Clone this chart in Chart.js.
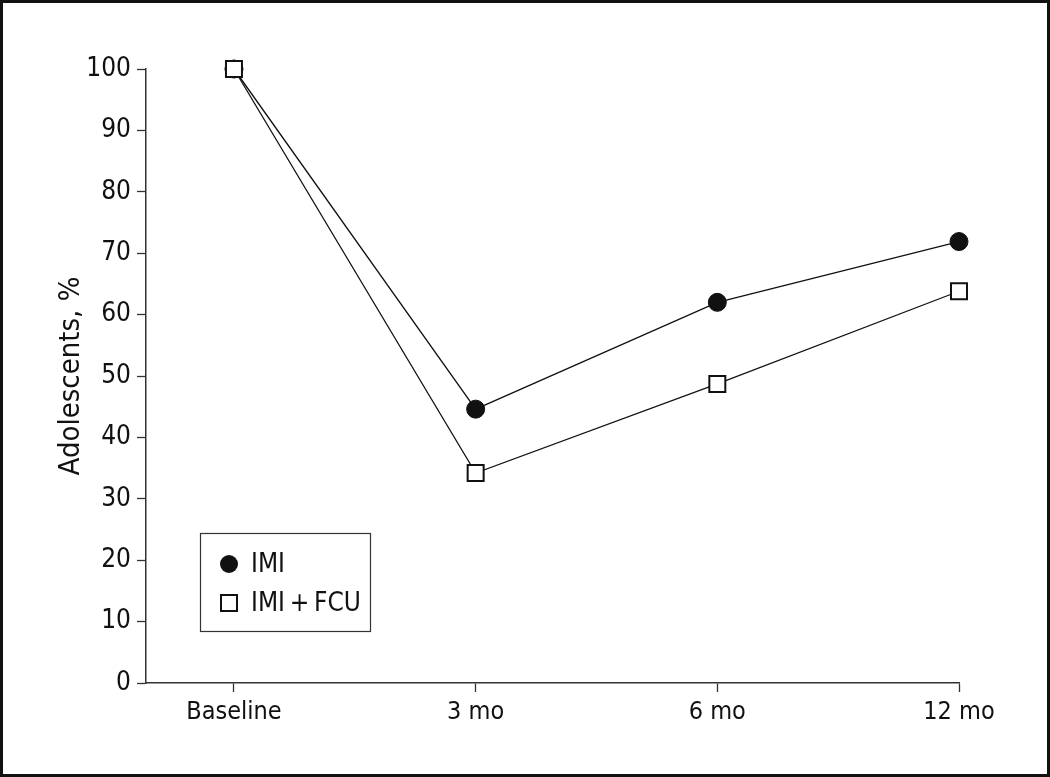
<!DOCTYPE html>
<html><head><meta charset="utf-8">
<script src="https://cdn.jsdelivr.net/npm/chart.js@4/dist/chart.umd.min.js"></script>
<style>html,body{margin:0;padding:0;background:#fff}#wrap{width:1050px;height:777px;position:relative}</style>
</head><body><div id="wrap"><canvas id="c" width="1050" height="777"></canvas></div>
<script>
const categories = ["Baseline", "3 mo", "6 mo", "12 mo"];
const imiValues = [100, 44.6, 62.0, 71.9];
const imiFcuValues = [100, 34.2, 48.7, 63.8];
const seriesLabels = ["IMI", "IMI\u2009+\u2009FCU"];
const yTicks = [0,10,20,30,40,50,60,70,80,90,100];

const FONT = "'Liberation Sans Narrow','DejaVu Sans Condensed','Arial Narrow',sans-serif";

const legendPlugin = {
  id: 'boxLegend',
  afterDatasetsDraw(chart) {
    const ctx = chart.ctx;
    ctx.save();
    ctx.strokeStyle = '#333';
    ctx.lineWidth = 1.2;
    ctx.strokeRect(200.5, 533.5, 170, 98);
    const rows = [564, 603];
    chart.data.datasets.forEach((ds, i) => {
      const y = rows[i];
      if (ds.pointStyle === 'circle') {
        ctx.beginPath(); ctx.arc(229, y, 9, 0, Math.PI*2);
        ctx.fillStyle = '#111'; ctx.fill();
      } else {
        ctx.fillStyle = '#fff'; ctx.strokeStyle = '#111'; ctx.lineWidth = 2;
        ctx.fillRect(221, y-8, 16, 16); ctx.strokeRect(221, y-8, 16, 16);
      }
      ctx.fillStyle = '#111';
      ctx.font = '26px ' + FONT;
      ctx.textBaseline = 'middle'; ctx.textAlign = 'left';
      ctx.fillText(ds.label, 251, y + 1);
    });
    ctx.restore();
  },
  afterDraw(chart) {
    const ctx = chart.ctx;
    ctx.save();
    ctx.strokeStyle = '#111'; ctx.lineWidth = 3;
    ctx.strokeRect(1.5, 1.5, 1047, 774);
    ctx.restore();
  }
};

new Chart(document.getElementById('c'), {
  type: 'line',
  data: {
    datasets: [
      { label: seriesLabels[0], data: imiValues.map((v,i)=>({x:i,y:v})), order: 1,
        borderColor: '#111', borderWidth: 1.3, pointStyle: 'circle', pointRadius: 9,
        pointBackgroundColor: '#111', pointBorderColor: '#111', pointBorderWidth: 1, tension: 0, clip: false },
      { label: seriesLabels[1], data: imiFcuValues.map((v,i)=>({x:i,y:v})), order: 0,
        borderColor: '#111', borderWidth: 1.3, pointStyle: 'rect', pointRadius: 11.3,
        pointBackgroundColor: '#fff', pointBorderColor: '#111', pointBorderWidth: 2, tension: 0, clip: false }
    ]
  },
  options: {
    responsive: false, animation: false,
    layout: { padding: { left: 0, top: 69, right: 91, bottom: 0 } },
    plugins: { legend: { display: false }, tooltip: { enabled: false } },
    scales: {
      x: {
        type: 'linear', min: -0.364, max: 3,
        afterBuildTicks(s) { s.ticks = categories.map((_,i)=>({value:i})); },
        afterFit(s) { s.height = 777 - 683; },
        ticks: { callback: (v) => categories[v] ?? '', color: '#111', font: { family: FONT, size: 25 }, padding: 5, maxRotation: 0, autoSkip: false },
        grid: { display: true, drawOnChartArea: false, drawTicks: true, tickLength: 9, tickColor: '#333', tickWidth: 1.3 },
        border: { display: true, color: '#333', width: 1.5 }
      },
      y: {
        min: 0, max: 100,
        afterBuildTicks(s) { s.ticks = yTicks.map(v=>({value:v})); },
        afterFit(s) { s.width = 146; },
        ticks: { color: '#111', font: { family: FONT, size: 26 }, padding: 6 },
        grid: { display: true, drawOnChartArea: false, drawTicks: true, tickLength: 9, tickColor: '#333', tickWidth: 1.3 },
        border: { display: true, color: '#333', width: 1.5 },
        title: { display: true, text: 'Adolescents, %', color: '#111', font: { family: FONT, size: 29 }, padding: { top: 54, bottom: 0 } }
      }
    }
  },
  plugins: [legendPlugin]
});
</script></body></html>
